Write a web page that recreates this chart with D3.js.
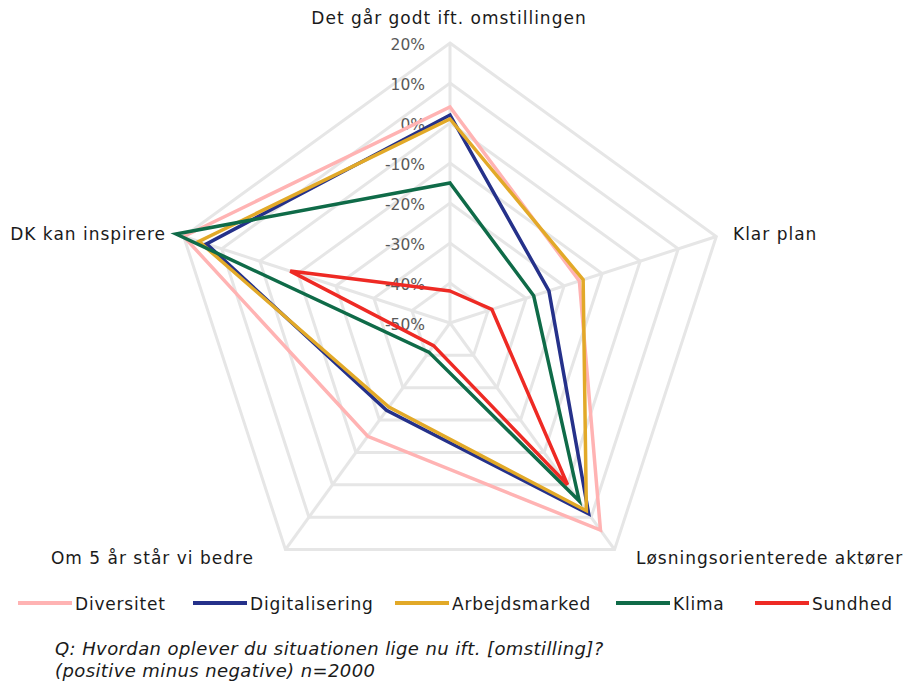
<!DOCTYPE html>
<html>
<head>
<meta charset="utf-8">
<script src="https://cdn.jsdelivr.net/npm/d3@7"></script>
<style>
  body { margin: 0; background: #fff; }
  svg { font-family: "DejaVu Sans", sans-serif; }
</style>
</head>
<body>
<svg width="903" height="683"></svg>
<script>
const axes = ["Det går godt ift. omstillingen", "Klar plan", "Løsningsorienterede aktører", "Om 5 år står vi bedre", "DK kan inspirere"];
const seriesNames = ["Diversitet", "Digitalisering", "Arbejdsmarked", "Klima", "Sundhed"];
const diversitet = [4, -16, 14, -15, 20];
const digitalisering = [2, -24, 9, -23, 14];
const arbejdsmarked = [1, -15, 8, -24, 16];
const klima = [-15, -28, 5, -41, 22];
const sundhed = [-42, -39, 0, -43, -8];
const ticks = [-50, -40, -30, -20, -10, 0, 10, 20];
const colors = ["#ffb3b3", "#25318a", "#e2a928", "#0f6b48", "#ee2a24"];

const allSeries = [diversitet, digitalisering, arbejdsmarked, klima, sundhed];

const svg = d3.select("svg");
const cx = 450, cy = 323, R = 280;

const r = d3.scaleLinear().domain([-50, 20]).range([0, R]);
const angle = i => i * 2 * Math.PI / axes.length;
const pt = (i, v) => [cx + r(v) * Math.sin(angle(i)), cy - r(v) * Math.cos(angle(i))];

// grid rings
const grid = svg.append("g");
ticks.slice(1).forEach(t => {
  grid.append("path")
    .attr("d", d3.line()(axes.map((a, i) => pt(i, t))) + "Z")
    .attr("fill", "none")
    .attr("stroke", "#e6e6e6")
    .attr("stroke-width", 3);
});
axes.forEach((a, i) => {
  grid.append("line")
    .attr("x1", cx).attr("y1", cy)
    .attr("x2", pt(i, 20)[0]).attr("y2", pt(i, 20)[1])
    .attr("stroke", "#e6e6e6")
    .attr("stroke-width", 3);
});

// tick labels
svg.append("g").selectAll("text")
  .data(ticks)
  .join("text")
  .attr("x", cx - 25)
  .attr("y", d => cy - r(d) + 7)
  .attr("text-anchor", "end")
  .attr("fill", "#595959")
  .attr("font-size", 15.5)
  .text(d => d + "%");

// series
const line = d3.line();
allSeries.forEach((s, k) => {
  svg.append("path")
    .attr("d", line(s.map((v, i) => pt(i, v))) + "Z")
    .attr("fill", "none")
    .attr("stroke", colors[k])
    .attr("stroke-width", 3.5)
    .attr("stroke-linejoin", "miter");
});

// axis labels
const labelPos = [
  { x: 449, y: 24, anchor: "middle" },
  { x: 733, y: 240, anchor: "start" },
  { x: 636, y: 564, anchor: "start" },
  { x: 254, y: 564, anchor: "end" },
  { x: 166, y: 240, anchor: "end" }
];
svg.append("g").selectAll("text")
  .data(axes)
  .join("text")
  .attr("x", (d, i) => labelPos[i].x)
  .attr("y", (d, i) => labelPos[i].y)
  .attr("text-anchor", (d, i) => labelPos[i].anchor)
  .attr("fill", "#1a1a1a")
  .attr("font-size", 17)
  .attr("letter-spacing", 1)
  .text(d => d);

// legend
const legendX = [18, 193, 395, 616, 755];
const legend = svg.append("g");
seriesNames.forEach((n, k) => {
  legend.append("line")
    .attr("x1", legendX[k]).attr("x2", legendX[k] + 54)
    .attr("y1", 603).attr("y2", 603)
    .attr("stroke", colors[k]).attr("stroke-width", 4);
  legend.append("text")
    .attr("x", legendX[k] + 57)
    .attr("y", 610)
    .attr("font-size", 17)
    .attr("letter-spacing", 0.8)
    .attr("fill", "#1a1a1a")
    .text(n);
});

// note
const note = svg.append("g")
  .attr("font-style", "italic").attr("font-size", 18).attr("letter-spacing", 0.4).attr("fill", "#1a1a1a");
note.append("text").attr("x", 55).attr("y", 655).text("Q: Hvordan oplever du situationen lige nu ift. [omstilling]?");
note.append("text").attr("x", 55).attr("y", 677).text("(positive minus negative) n=2000");
</script>
</body>
</html>
